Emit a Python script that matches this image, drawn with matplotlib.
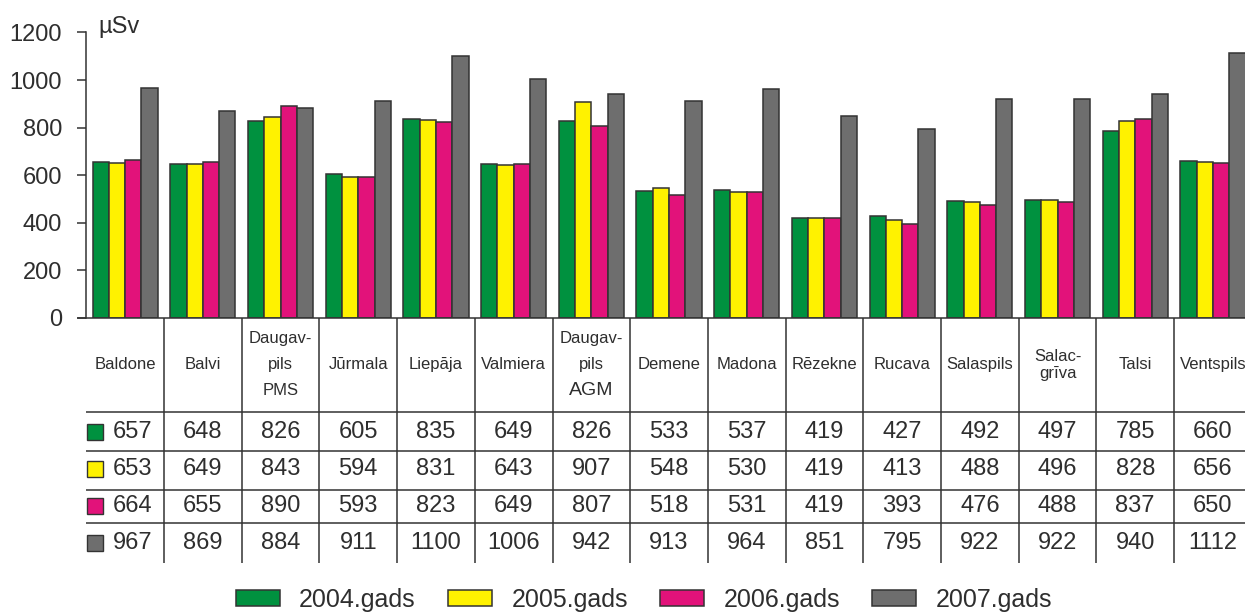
import numpy as np
import matplotlib.pyplot as plt
from matplotlib.patches import Rectangle

plt.rcParams['font.family'] = ['Liberation Sans', 'DejaVu Sans']

# data
stations = ["Baldone", "Balvi", "Daugav-\npils\nPMS", "Jūrmala", "Liepāja", "Valmiera",
            "Daugav-\npils\nAGM", "Demene", "Madona", "Rēzekne", "Rucava", "Salaspils",
            "Salac-\ngrīva", "Talsi", "Ventspils"]
years = ["2004.gads", "2005.gads", "2006.gads", "2007.gads"]
y2004 = [657, 648, 826, 605, 835, 649, 826, 533, 537, 419, 427, 492, 497, 785, 660]
y2005 = [653, 649, 843, 594, 831, 643, 907, 548, 530, 419, 413, 488, 496, 828, 656]
y2006 = [664, 655, 890, 593, 823, 649, 807, 518, 531, 419, 393, 476, 488, 837, 650]
y2007 = [967, 869, 884, 911, 1100, 1006, 942, 913, 964, 851, 795, 922, 922, 940, 1112]
series = [y2004, y2005, y2006, y2007]
colors = ["#00913F", "#FFF200", "#E2127A", "#6E6E6E"]

txt = "#2e2e2e"
edge = "#333333"
W, H = 1245, 614

# layout in pixels of the reference
left_px, col_px = 86.3, 77.7
right_px = left_px + 15 * col_px
top_px, zero_px, table_bot_px = 32.5, 318, 563

fig = plt.figure(figsize=(W / 100, H / 100), dpi=100)
ax = fig.add_axes([left_px / W, 1 - zero_px / H, (right_px - left_px) / W,
                   (zero_px - top_px) / H])

x = np.arange(len(stations))
bw = 0.21
handles = []
for i, (vals, c) in enumerate(zip(series, colors)):
    b = ax.bar(x + (i - 1.5) * bw, vals, bw, color=c, edgecolor=edge,
               linewidth=1.1, label=years[i])
    handles.append(b)

ax.set_xlim(-0.5, 14.5)
ax.set_ylim(0, 1200)
ax.set_yticks(range(0, 1201, 200))
ax.set_xticks([])
ax.tick_params(axis='y', length=6.5, width=1.1, color=edge, labelsize=17,
               labelcolor=txt, pad=11)
for s in ['top', 'right', 'bottom']:
    ax.spines[s].set_visible(False)
ax.spines['left'].set_color(edge)
ax.spines['left'].set_linewidth(1.1)
ax.text(0.01, 1.02, "µSv", transform=ax.transAxes, fontsize=17, color=txt,
        ha='left', va='center')

# table below the bars (y in pixels from the axis line)
tab = fig.add_axes([left_px / W, 1 - table_bot_px / H, (right_px - left_px) / W,
                    (table_bot_px - zero_px) / H])
tab.set_xlim(-0.5, 14.5)
tab.set_ylim(table_bot_px - zero_px, 0)
tab.axis('off')

row_lines = [94, 133, 172, 205]
row_mid = [114, 151, 188, 225]
tab.axhline(0, xmin=-8 / (right_px - left_px), color=edge, lw=1.1, clip_on=False)
for yl in row_lines:
    tab.axhline(yl, color=edge, lw=1.1)
for k in range(1, 15):
    tab.plot([k - 0.5, k - 0.5], [0, table_bot_px - zero_px], color=edge, lw=1.1)

for i, name in enumerate(stations):
    lines = name.split("\n")
    sp = 17 if name.startswith("Salac") else 26
    y0 = 47 - sp * (len(lines) - 1) / 2
    for j, ln in enumerate(lines):
        tab.text(i, y0 + j * sp, ln, ha='center', va='center', color=txt,
                 fontsize=14 if ln == "AGM" else 12)

sq_w = 16 / col_px
for r, vals in enumerate(series):
    tab.add_patch(Rectangle((-0.49, row_mid[r] - 8), sq_w, 16,
                            facecolor=colors[r], edgecolor=edge, lw=1.0))
    for i, v in enumerate(vals):
        xi = i + 0.1 if i == 0 else i
        tab.text(xi, row_mid[r], str(v), ha='center', va='center',
                 fontsize=17, color=txt)

fig.legend(handles=handles, labels=years, loc='center', ncol=4,
           bbox_to_anchor=(644 / W, 1 - 600 / H), frameon=False, fontsize=18,
           handlelength=1.76, handleheight=0.6, handletextpad=0.76,
           columnspacing=1.3, labelcolor=txt)

fig.savefig("out.png", dpi=100)
